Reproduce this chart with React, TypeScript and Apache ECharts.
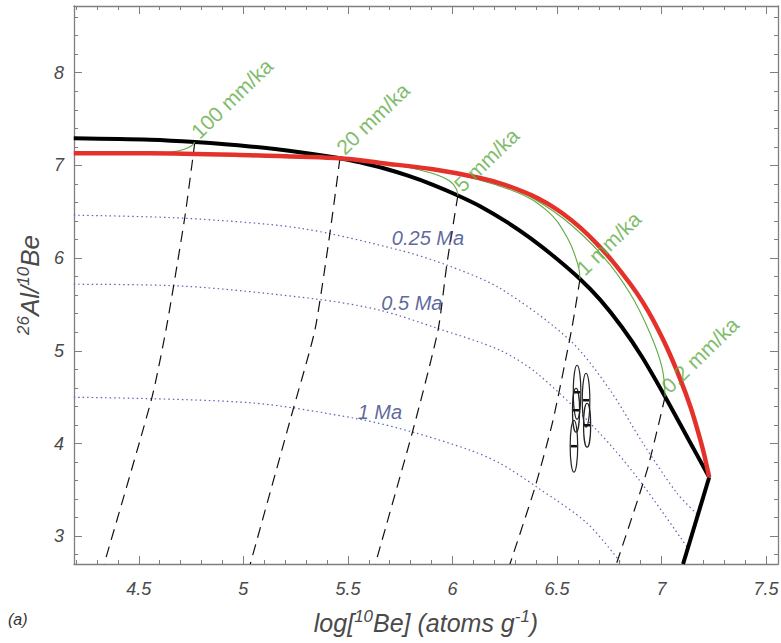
import React, { useEffect, useRef } from "react";
import * as echarts from "echarts";

// Axis extents
const X_MIN = 4.19;
const X_MAX = 7.557;
const Y_MIN = 2.7;
const Y_MAX = 8.72;

// Thick black curve (constant exposure, no erosion)
const blackCurve: number[][] = [
  [4.189, 7.293], [4.553, 7.277], [4.768, 7.252], [5.031, 7.205], [5.27, 7.142],
  [5.462, 7.078], [5.557, 7.033], [5.667, 6.972], [5.787, 6.889], [5.907, 6.791],
  [6.026, 6.676], [6.132, 6.56], [6.261, 6.388], [6.371, 6.219], [6.49, 6.01],
  [6.61, 5.775], [6.706, 5.552], [6.811, 5.254], [6.907, 4.933], [7.017, 4.505],
  [7.127, 4.052], [7.228, 3.636],
];
const blackTail: number[][] = [[7.228, 3.636], [7.103, 2.7]];

// Thick red curve (steady-state erosion)
const redCurve: number[][] = [
  [4.189, 7.132], [4.553, 7.132], [5.031, 7.11], [5.462, 7.078], [5.667, 7.024],
  [5.907, 6.959], [6.132, 6.865], [6.251, 6.791], [6.371, 6.686], [6.419, 6.633],
  [6.467, 6.572], [6.529, 6.478], [6.61, 6.331], [6.691, 6.154], [6.768, 5.96],
  [6.849, 5.726], [6.907, 5.536], [6.959, 5.335], [7.026, 5.033], [7.089, 4.697],
  [7.139, 4.392], [7.172, 4.148], [7.201, 3.909], [7.228, 3.636],
];

// Thin green erosion paths
const green100: number[][] = [[4.648, 7.14], [4.715, 7.172], [4.754, 7.215], [4.768, 7.252]];
const green5: number[][] = [[5.557, 7.05], [5.749, 6.998], [5.907, 6.912], [5.988, 6.83], [6.018, 6.748], [6.026, 6.676]];
const green1: number[][] = [[5.94, 6.945], [6.289, 6.728], [6.452, 6.512], [6.548, 6.225], [6.6, 5.93], [6.61, 5.775]];
const green02: number[][] = [[6.323, 6.725], [6.529, 6.43], [6.72, 6.02], [6.849, 5.621], [6.945, 5.19], [7.002, 4.823], [7.017, 4.505]];

// Dashed burial paths
const dash100: number[][] = [[4.768, 7.252], [4.72, 6.441], [4.634, 5.276], [4.562, 4.489], [4.334, 2.7]];
const dash20: number[][] = [[5.462, 7.078], [5.414, 6.269], [5.342, 5.222], [5.237, 4.359], [5.033, 2.7]];
const dash5: number[][] = [[6.026, 6.676], [5.974, 5.945], [5.931, 5.222], [5.811, 4.143], [5.631, 2.7]];
const dash1: number[][] = [[6.61, 5.775], [6.572, 5.255], [6.481, 4.251], [6.395, 3.529], [6.275, 2.7]];
const dash02: number[][] = [[7.017, 4.505], [6.931, 3.712], [6.784, 2.7]];

// Dotted burial isochrones
const iso025: number[][] = [
  [4.189, 6.463], [4.72, 6.43], [5.27, 6.323], [5.749, 6.085], [5.974, 5.924], [6.227, 5.675],
  [6.562, 5.114], [6.754, 4.575], [6.911, 4.003], [7.074, 3.464], [7.175, 3.227],
];
const iso05: number[][] = [
  [4.189, 5.718], [4.72, 5.697], [5.352, 5.557], [5.653, 5.438], [5.926, 5.244], [6.227, 5.006],
  [6.404, 4.758], [6.691, 4.143], [6.883, 3.636], [7.123, 2.88],
];
const iso1: number[][] = [
  [4.189, 4.499], [5.031, 4.44], [5.557, 4.262], [5.811, 4.122], [6.084, 3.928],
  [6.227, 3.787], [6.404, 3.529], [6.644, 3.14], [6.81, 2.7],
];

// Sample error ellipses: [x, y, halfWidthX, halfHeightY]
const samples: number[][] = [
  [6.596, 4.553, 0.018, 0.291],
  [6.591, 4.359, 0.017, 0.237],
  [6.581, 3.971, 0.018, 0.28],
  [6.639, 4.467, 0.018, 0.291],
  [6.644, 4.197, 0.017, 0.237],
];

// Label texts and anchors
const erosionLabels = ["100 mm/ka", "20 mm/ka", "5 mm/ka", "1 mm/ka", "0.2 mm/ka"];
const erosionAnchors: number[][] = [[4.768, 7.252], [5.462, 7.078], [6.026, 6.676], [6.61, 5.775], [7.017, 4.505]];
const ageLabels = ["0.25 Ma", "0.5 Ma", "1 Ma"];
const ageAnchors: number[][] = [[5.883, 6.215], [5.806, 5.513], [5.653, 4.338]];

const FONT = "Liberation Sans, Arial, sans-serif";
const AXIS_COLOR = "#7f7f7f";
const GREEN = "#5dab41";
const NAVY = "#353f85";

function lineSeries(data: number[][], color: string, width: number, type: any, z: number, smooth: number) {
  return {
    type: "line",
    data,
    showSymbol: false,
    symbol: "none",
    smooth,
    silent: true,
    z,
    lineStyle: { color, width, type, cap: "butt", join: "round" },
    emphasis: { disabled: true },
  };
}

export default function App() {
  const ref = useRef<HTMLDivElement>(null);
  useEffect(() => {
    if (!ref.current) return;
    const chart = echarts.init(ref.current, null, { renderer: "svg" });
    const tickStyle = { color: AXIS_COLOR, width: 1 };
    const baseX = {
      type: "value",
      min: X_MIN,
      max: X_MAX,
      minInterval: 0.5,
      maxInterval: 0.5,
      splitLine: { show: false },
      axisLine: { show: true, onZero: false, lineStyle: { color: AXIS_COLOR, width: 1.3 } },
      axisTick: { show: true, inside: true, length: 8, lineStyle: tickStyle },
      minorTick: { show: true, splitNumber: 5, length: 4, lineStyle: tickStyle },
    };
    const baseY = {
      type: "value",
      min: Y_MIN,
      max: Y_MAX,
      minInterval: 1,
      maxInterval: 1,
      splitLine: { show: false },
      axisLine: { show: true, onZero: false, lineStyle: { color: AXIS_COLOR, width: 1.3 } },
      axisTick: { show: true, inside: true, length: 8, lineStyle: tickStyle },
      minorTick: { show: true, splitNumber: 5, length: 4, lineStyle: tickStyle },
    };
    const tickLabel = {
      show: true,
      showMinLabel: false,
      showMaxLabel: false,
      fontStyle: "italic",
      fontSize: 18,
      color: "#4a4a4a",
      fontFamily: FONT,
    };
    const richX = {
      n: { fontSize: 25, fontStyle: "italic", color: "#4a4a4a", fontFamily: FONT },
      s: { fontSize: 17, fontStyle: "italic", color: "#4a4a4a", fontFamily: FONT, padding: [0, 0, 13, 0] },
    };
    const richY = {
      n: { fontSize: 26, fontStyle: "italic", color: "#4a4a4a", fontFamily: FONT },
      s: { fontSize: 17, fontStyle: "italic", color: "#4a4a4a", fontFamily: FONT, padding: [0, 0, 14, 0] },
    };

    const option: any = {
      animation: false,
      backgroundColor: "#ffffff",
      grid: { left: 74, right: 3, top: 6, bottom: 79, containLabel: false, outerBoundsMode: "none" },
      xAxis: [
        {
          ...baseX,
          position: "bottom",
          axisLabel: { ...tickLabel, margin: 16 },
          name: "{n|log[}{s|10}{n|Be] (atoms g}{s|-1}{n|)}",
          nameLocation: "middle",
          nameGap: 44,
          nameTextStyle: { rich: richX },
        },
        { ...baseX, position: "top", axisLabel: { show: false } },
      ],
      yAxis: [
        {
          ...baseY,
          position: "left",
          axisLabel: { ...tickLabel, margin: 10 },
          name: "{s|26}{n|Al/}{s|10}{n|Be}",
          nameLocation: "middle",
          nameGap: 28,
          nameRotate: 90,
          nameTextStyle: { rich: richY },
        },
        { ...baseY, position: "right", axisLabel: { show: false } },
      ],
      graphic: [
        {
          type: "text",
          left: 8,
          top: 611,
          style: { text: "(a)", font: "italic 16px Liberation Sans, Arial, sans-serif", fill: "#333" },
        },
      ],
      series: [
        lineSeries(iso025, "#5a63b5", 1.2, [1.5, 3], 1, 0.3),
        lineSeries(iso05, "#5a63b5", 1.2, [1.5, 3], 1, 0.3),
        lineSeries(iso1, "#5a63b5", 1.2, [1.5, 3], 1, 0.3),
        lineSeries(dash100, "#111", 1.2, [11, 7], 2, 0.2),
        lineSeries(dash20, "#111", 1.2, [11, 7], 2, 0.2),
        lineSeries(dash5, "#111", 1.2, [11, 7], 2, 0.2),
        lineSeries(dash1, "#111", 1.2, [11, 7], 2, 0.2),
        lineSeries(dash02, "#111", 1.2, [11, 7], 2, 0.2),
        {
          type: "custom",
          data: samples,
          silent: true,
          z: 3,
          renderItem: (params: any, api: any) => {
            const c = api.coord([api.value(0), api.value(1)]);
            const sz = api.size([api.value(2), api.value(3)]);
            return {
              type: "group",
              children: [
                {
                  type: "ellipse",
                  shape: { cx: c[0], cy: c[1], rx: sz[0], ry: sz[1] },
                  style: { fill: "none", stroke: "#222", lineWidth: 1.2 },
                },
                {
                  type: "line",
                  shape: { x1: c[0] - 3, y1: c[1], x2: c[0] + 3, y2: c[1] },
                  style: { stroke: "#111", lineWidth: 2.5 },
                },
              ],
            };
          },
        },
        lineSeries(blackCurve, "#000", 4, "solid", 4, 0.3),
        lineSeries(blackTail, "#000", 4, "solid", 4, 0),
        lineSeries(green100, GREEN, 1.1, "solid", 5, 0.4),
        lineSeries(green5, GREEN, 1.1, "solid", 5, 0.4),
        lineSeries(green1, GREEN, 1.1, "solid", 5, 0.4),
        lineSeries(green02, GREEN, 1.1, "solid", 5, 0.4),
        lineSeries(redCurve, "#e4322b", 4.5, "solid", 6, 0.3),
        {
          type: "scatter",
          silent: true,
          z: 10,
          symbolSize: 0,
          data: erosionAnchors.map((p, i) => ({ value: p, name: erosionLabels[i] })),
          label: {
            show: true,
            formatter: "{b}",
            position: "right",
            distance: 7,
            rotate: 44,
            align: "left",
            verticalAlign: "bottom",
            color: GREEN,
            fontSize: 21,
            fontFamily: FONT,
          },
        },
        {
          type: "scatter",
          silent: true,
          z: 10,
          symbolSize: 0,
          data: ageAnchors.map((p, i) => ({ value: p, name: ageLabels[i] })),
          label: {
            show: true,
            formatter: "{b}",
            position: "inside",
            align: "center",
            verticalAlign: "middle",
            color: NAVY,
            fontSize: 20,
            fontStyle: "italic",
            fontFamily: FONT,
          },
        },
      ],
    };
    chart.setOption(option);
    return () => chart.dispose();
  }, []);
  return (
    <div
      ref={ref}
      style={{ position: "absolute", left: 0, top: 0, width: 781, height: 643, background: "#fff" }}
    />
  );
}
